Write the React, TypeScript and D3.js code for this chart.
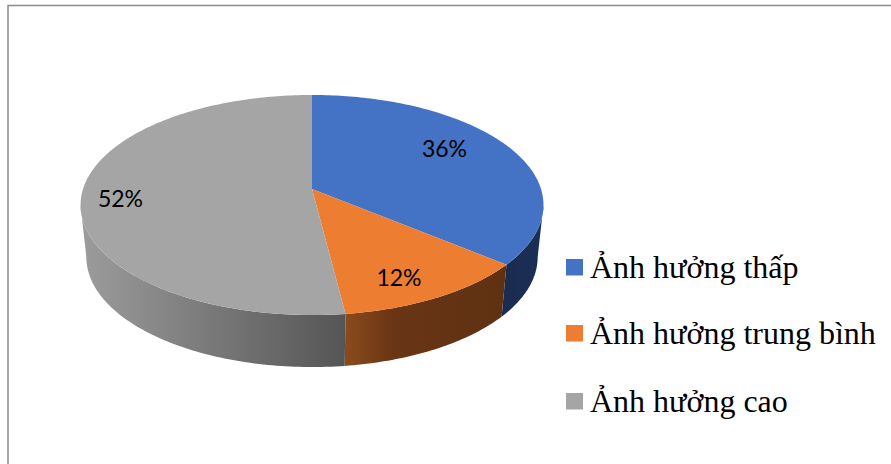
import React from "react";
import * as d3 from "d3";

const categories = ["Ảnh hưởng thấp", "Ảnh hưởng trung bình", "Ảnh hưởng cao"];
const shares = [36, 12, 52];
const topColors = ["#4472c4", "#ed7d31", "#a5a5a5"];
const legendColors = ["#4472c4", "#ed7d31", "#a5a5a5"];
const wallStops: [number, string][][] = [
  [[0, "#1a2c50"], [1, "#1a2f55"]],
  [[0, "#8a4b1c"], [0.3, "#693515"], [1, "#5e3112"]],
  [[0, "#9c9c9c"], [1, "#555555"]],
];

// Perspective disc: a unit circle in the pie's plane projected onto the screen.
const apexX = 312;
const apexY = 189;
const spreadX = 229;
const spreadY = 107.7;
const tilt = 0.1455;
const wallDepth = 52;
const floorShrink = 0.975;

const project = (a: number): [number, number] => {
  const u = Math.sin(a);
  const v = -Math.cos(a);
  const w = 1 - tilt * v;
  return [apexX + (spreadX * u) / w, apexY + (spreadY * v) / w];
};

const projectFloor = (a: number): [number, number] => {
  const [x, y] = project(a);
  return [apexX + (x - apexX) * floorShrink, y + wallDepth];
};

const outline = d3.line<[number, number]>();

const sweep = (a0: number, a1: number): number[] => {
  const n = Math.max(2, Math.ceil(((a1 - a0) * 180) / Math.PI));
  return d3.range(n + 1).map((i) => a0 + ((a1 - a0) * i) / n);
};

const arcs = d3
  .pie<number>()
  .sort(null)
  .value((d) => d)(shares);

// The wall is visible between the two widest points of the projected rim.
const frontStart = Math.acos(-tilt);
const frontEnd = 2 * Math.PI - frontStart;

function wallRange(a0: number, a1: number): [number, number] | null {
  const s = Math.max(a0, frontStart);
  const e = Math.min(a1, frontEnd);
  return e > s ? [s, e] : null;
}

function wallPath(a0: number, a1: number): string {
  const r = wallRange(a0, a1);
  if (!r) return "";
  const angles = sweep(r[0], r[1]);
  const pts = [...angles.map(project), ...angles.slice().reverse().map(projectFloor)];
  return (outline(pts) ?? "") + "Z";
}

function facePath(a0: number, a1: number): string {
  const pts: [number, number][] = [[apexX, apexY], ...sweep(a0, a1).map(project)];
  return (outline(pts) ?? "") + "Z";
}

const labelPositions: [number, number][] = [
  [444.5, 149],
  [399, 277.5],
  [120.5, 198.5],
];

const legendX = 566;
const legendRectYs = [259, 325, 393];
const legendBaselines = [278, 344, 412];

export default function App() {
  return (
    <svg
      width={891}
      height={464}
      style={{ position: "absolute", left: 0, top: 0, background: "#fff" }}
    >
      <defs>
        {arcs.map((d, i) => {
          const r = wallRange(d.startAngle, d.endAngle);
          if (!r) return null;
          const xs = [project(r[0])[0], project(r[1])[0]];
          return (
            <linearGradient
              key={i}
              id={`wall-${i}`}
              gradientUnits="userSpaceOnUse"
              x1={d3.min(xs)}
              x2={d3.max(xs)}
              y1={0}
              y2={0}
            >
              {wallStops[i].map(([o, c]) => (
                <stop key={o} offset={o} stopColor={c} />
              ))}
            </linearGradient>
          );
        })}
      </defs>

      {/* chart frame: left and top rules */}
      <path d="M8,464V5.5H891" fill="none" stroke="#8c8c8c" strokeWidth={1.5} />

      {/* side walls */}
      {arcs.map((d, i) => (
        <path key={i} d={wallPath(d.startAngle, d.endAngle)} fill={`url(#wall-${i})`} />
      ))}

      {/* top face */}
      {arcs.map((d, i) => (
        <path key={i} d={facePath(d.startAngle, d.endAngle)} fill={topColors[i]} />
      ))}

      {/* value labels */}
      {arcs.map((d, i) => (
        <text
          key={i}
          x={labelPositions[i][0]}
          y={labelPositions[i][1]}
          dy="0.35em"
          textAnchor="middle"
          fontFamily="Lato, 'Open Sans', sans-serif"
          fontSize={23}
          fill="#000"
        >
          {`${d.data}%`}
        </text>
      ))}

      {/* legend */}
      {categories.map((c, i) => (
        <g key={c}>
          <rect x={legendX} y={legendRectYs[i]} width={17} height={16.5} fill={legendColors[i]} />
          <text
            x={590}
            y={legendBaselines[i]}
            fontFamily="'Liberation Serif', serif"
            fontSize={32}
            fill="#000"
          >
            {c}
          </text>
        </g>
      ))}
    </svg>
  );
}
